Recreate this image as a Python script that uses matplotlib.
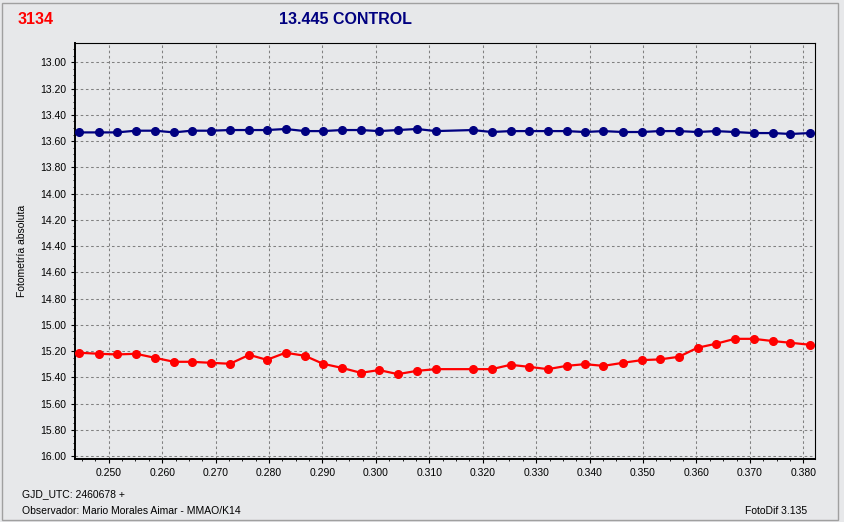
import matplotlib
matplotlib.use("Agg")
import matplotlib.pyplot as plt
from matplotlib.ticker import MultipleLocator, FormatStrFormatter
from matplotlib.patches import Rectangle

plt.rcParams['font.family'] = ['Liberation Sans', 'DejaVu Sans']

# time (GJD_UTC - 2460678)
jd = [0.2445, 0.2482, 0.2515, 0.2551, 0.2587, 0.2622, 0.2655, 0.2692, 0.2727,
      0.2763, 0.2796, 0.2831, 0.2867, 0.2901, 0.2936, 0.2972, 0.3006, 0.3041,
      0.3077, 0.3112, 0.3181, 0.3217, 0.3252, 0.3286, 0.3322, 0.3357, 0.3391,
      0.3426, 0.3462, 0.3498, 0.3531, 0.3567, 0.3602, 0.3636, 0.3672, 0.3707,
      0.3743, 0.3776, 0.3812]

# control star (blue)
control = [13.534, 13.534, 13.534, 13.521, 13.521, 13.534, 13.521, 13.521, 13.516,
           13.516, 13.516, 13.508, 13.524, 13.524, 13.516, 13.516, 13.524, 13.516,
           13.508, 13.524, 13.516, 13.531, 13.524, 13.524, 13.524, 13.524, 13.531,
           13.524, 13.531, 13.531, 13.524, 13.524, 13.531, 13.524, 13.531, 13.539,
           13.539, 13.546, 13.539]

# variable 3134 (red)
variable = [15.213, 15.221, 15.226, 15.221, 15.252, 15.282, 15.282, 15.290, 15.297,
            15.229, 15.267, 15.213, 15.236, 15.297, 15.328, 15.366, 15.345, 15.376,
            15.351, 15.338, 15.338, 15.338, 15.305, 15.320, 15.338, 15.313, 15.300,
            15.313, 15.290, 15.269, 15.264, 15.244, 15.175, 15.145, 15.107, 15.107,
            15.124, 15.137, 15.152]

bg = '#e7e8ea'

fig = plt.figure(figsize=(8.44, 5.22), dpi=100, facecolor=bg)
ax = fig.add_axes([75 / 844, 1 - 459.3 / 522, 740 / 844, 416 / 522])
ax.set_facecolor(bg)

ax.plot(jd, control, color='#000080', linewidth=1.6, marker='o', markersize=5.5, clip_on=False, zorder=3)
ax.plot(jd, variable, color='#ff0000', linewidth=1.6, marker='o', markersize=5.5, clip_on=False, zorder=3)

ax.set_xlim(0.24369, 0.38219)
ax.set_ylim(16.025, 12.855)

ax.xaxis.set_major_locator(MultipleLocator(0.01))
ax.xaxis.set_minor_locator(MultipleLocator(0.0025))
ax.xaxis.set_major_formatter(FormatStrFormatter('%.3f'))
ax.yaxis.set_major_locator(MultipleLocator(0.2))
ax.yaxis.set_minor_locator(MultipleLocator(0.05))
ax.yaxis.set_major_formatter(FormatStrFormatter('%.2f'))

ax.tick_params(which='major', length=3, width=0.8, labelsize=7.5, pad=3, colors='black')
ax.tick_params(which='minor', length=1.5, width=0.6)

ax.grid(True, which='major', color='#808080', linestyle=(0, (2.5, 2.5)), linewidth=0.75)

ax.spines['left'].set_linewidth(1.4)
ax.spines['bottom'].set_linewidth(1.4)
ax.spines['top'].set_linewidth(0.8)
ax.spines['right'].set_linewidth(0.8)

# titles and labels
fig.text(18 / 844, 1 - 19 / 522, "3134", color='#ff0000', fontsize=11.5, fontweight='bold', va='center', ha='left')
fig.text(345.5 / 844, 1 - 19 / 522, "13.445 CONTROL", color='#000080', fontsize=11.5, fontweight='bold', va='center', ha='center')
fig.text(22.5 / 844, 1 - 251 / 522, "Fotometría absoluta", rotation=90, fontsize=7.5, va='center', ha='center')

fig.text(22 / 844, 1 - 494 / 522, "GJD_UTC: 2460678 +", fontsize=7.5, va='center', ha='left')
fig.text(22 / 844, 1 - 511 / 522, "Observador: Mario Morales Aimar - MMAO/K14", fontsize=7.5, va='center', ha='left')
fig.text(807 / 844, 1 - 511 / 522, "FotoDif 3.135", fontsize=7.5, va='center', ha='right')

# outer window frame
fig.patches.append(Rectangle((2 / 844, 2 / 522), 836 / 844, 517 / 522, transform=fig.transFigure,
                             fill=False, edgecolor='#a0a0a0', linewidth=1))

fig.savefig("out.png", dpi=100, facecolor=bg)
